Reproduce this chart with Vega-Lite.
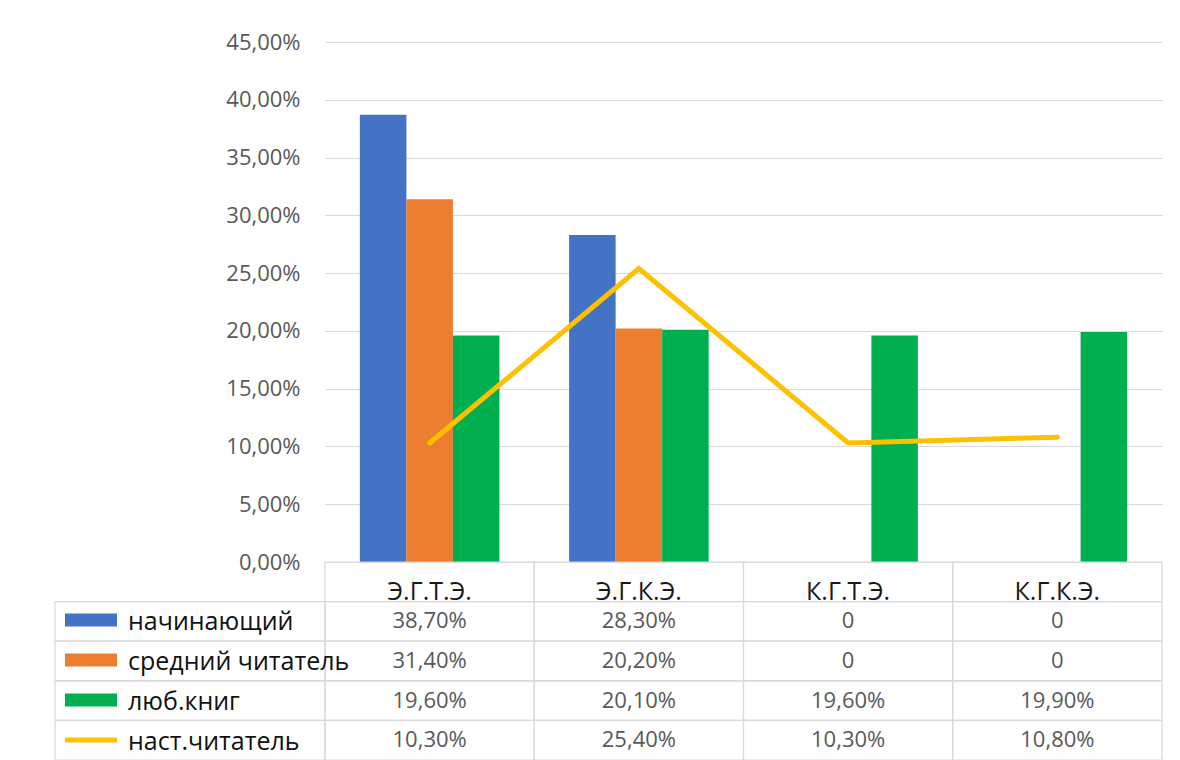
{
  "$schema": "https://vega.github.io/schema/vega-lite/v6.json",
  "padding": {"left": 54, "top": 31, "right": 0, "bottom": 0},
  "background": "white",
  "config": {
    "view": {"stroke": null},
    "font": "Open Sans",
    "locale": {"number": {"decimal": ",", "thousands": " ", "grouping": [3], "currency": ["", ""]}}
  },
  "datasets": {
    "table": [
      {"category": "Э.Г.Т.Э.", "series": "начинающий", "value": 0.387},
      {"category": "Э.Г.К.Э.", "series": "начинающий", "value": 0.283},
      {"category": "К.Г.Т.Э.", "series": "начинающий", "value": 0},
      {"category": "К.Г.К.Э.", "series": "начинающий", "value": 0},
      {"category": "Э.Г.Т.Э.", "series": "средний читатель", "value": 0.314},
      {"category": "Э.Г.К.Э.", "series": "средний читатель", "value": 0.202},
      {"category": "К.Г.Т.Э.", "series": "средний читатель", "value": 0},
      {"category": "К.Г.К.Э.", "series": "средний читатель", "value": 0},
      {"category": "Э.Г.Т.Э.", "series": "люб.книг", "value": 0.196},
      {"category": "Э.Г.К.Э.", "series": "люб.книг", "value": 0.201},
      {"category": "К.Г.Т.Э.", "series": "люб.книг", "value": 0.196},
      {"category": "К.Г.К.Э.", "series": "люб.книг", "value": 0.199},
      {"category": "Э.Г.Т.Э.", "series": "наст.читатель", "value": 0.103},
      {"category": "Э.Г.К.Э.", "series": "наст.читатель", "value": 0.254},
      {"category": "К.Г.Т.Э.", "series": "наст.читатель", "value": 0.103},
      {"category": "К.Г.К.Э.", "series": "наст.читатель", "value": 0.108}
    ]
  },
  "columns": 2,
  "spacing": 0,
  "bounds": "flush",
  "concat": [
    {
      "width": 270,
      "height": 520,
      "data": {"values": [{}]},
      "mark": {"type": "text", "text": ""},
      "encoding": {}
    },
    {
      "width": 837,
      "height": 520,
      "data": {"name": "table"},
      "encoding": {
        "x": {
          "field": "category",
          "type": "nominal",
          "scale": {"domain": ["Э.Г.Т.Э.", "Э.Г.К.Э.", "К.Г.Т.Э.", "К.Г.К.Э."], "paddingInner": 0.333, "paddingOuter": 0.1667},
          "axis": null
        }
      },
      "layer": [
        {
          "transform": [{"filter": "datum.series !== 'наст.читатель'"}],
          "mark": {"type": "bar"},
          "encoding": {
            "xOffset": {
              "field": "series",
              "type": "nominal",
              "scale": {"domain": ["начинающий", "средний читатель", "люб.книг"], "paddingInner": 0, "paddingOuter": 0}
            },
            "y": {
              "field": "value",
              "type": "quantitative",
              "scale": {"domain": [0, 0.45]},
              "axis": {
                "values": [0, 0.05, 0.1, 0.15, 0.2, 0.25, 0.3, 0.35, 0.4, 0.45],
                "format": ".2%",
                "title": null,
                "domain": false,
                "ticks": false,
                "grid": true,
                "gridColor": "#d9d9d9",
                "gridWidth": 1.2,
                "labelFontSize": 22,
                "labelColor": "#595959",
                "labelPadding": 25
              }
            },
            "color": {
              "field": "series",
              "type": "nominal",
              "scale": {
                "domain": ["начинающий", "средний читатель", "люб.книг", "наст.читатель"],
                "range": ["#4472C4", "#ED7D31", "#00B050", "#FFC000"]
              },
              "legend": {
                "orient": "none",
                "legendX": 23,
                "legendY": 565,
                "title": null,
                "labelFontSize": 25,
                "labelColor": "#111111",
                "labelFont": "Open Sans",
                "labelLimit": 400,
                "symbolType": "M-2,-0.5H2V0.5H-2Z",
                "symbolSize": 676,
                "symbolStrokeWidth": 0,
                "rowPadding": 12,
                "labelOffset": 24,
                "encode": {
                  "symbols": {
                    "update": {
                      "shape": {"signal": "datum.value === 'наст.читатель' ? 'M-2,-0.2H2V0.2H-2Z' : 'M-2,-0.5H2V0.5H-2Z'"},
                      "fill": {"signal": "scale('color', datum.value)"},
                      "strokeWidth": {"value": 0},
                      "opacity": {"value": 1}
                    }
                  },
                  "labels": {"update": {"dy": {"value": 2}}}
                }
              }
            }
          }
        },
        {
          "transform": [{"filter": "datum.series === 'наст.читатель'"}],
          "mark": {"type": "line", "strokeWidth": 5, "strokeCap": "round", "strokeJoin": "miter"},
          "encoding": {
            "y": {"field": "value", "type": "quantitative"},
            "color": {"field": "series", "type": "nominal"}
          }
        }
      ]
    },
    {
      "width": 270,
      "height": 198,
      "data": {"name": "table"},
      "transform": [{"filter": "datum.category === 'Э.Г.Т.Э.'"}],
      "mark": {"type": "rect", "filled": false, "stroke": "#d9d9d9", "strokeWidth": 1.2},
      "encoding": {
        "y": {
          "field": "series",
          "type": "nominal",
          "scale": {"domain": ["hdr", "начинающий", "средний читатель", "люб.книг", "наст.читатель"], "paddingInner": 0, "paddingOuter": 0},
          "axis": null
        }
      }
    },
    {
      "width": 837,
      "height": 198,
      "data": {"name": "table"},
      "encoding": {
        "x": {
          "field": "category",
          "type": "nominal",
          "scale": {"domain": ["Э.Г.Т.Э.", "Э.Г.К.Э.", "К.Г.Т.Э.", "К.Г.К.Э."], "paddingInner": 0, "paddingOuter": 0},
          "axis": null
        }
      },
      "layer": [
        {
          "mark": {"type": "rect", "filled": false, "stroke": "#d9d9d9", "strokeWidth": 1.2},
          "encoding": {
            "y": {
              "field": "series",
              "type": "nominal",
              "scale": {"domain": ["hdr", "начинающий", "средний читатель", "люб.книг", "наст.читатель"], "paddingInner": 0, "paddingOuter": 0},
              "axis": null
            }
          }
        },
        {
          "transform": [{"filter": "datum.series === 'начинающий'"}],
          "mark": {"type": "rect", "filled": false, "stroke": "#d9d9d9", "strokeWidth": 1.2},
          "encoding": {"y": {"datum": "hdr", "type": "nominal"}}
        },
        {
          "mark": {"type": "text", "fontSize": 22, "color": "#595959"},
          "encoding": {
            "y": {"field": "series", "type": "nominal"},
            "text": {"condition": {"test": "datum.value === 0", "value": "0"}, "field": "value", "type": "quantitative", "format": ".2%"}
          }
        },
        {
          "transform": [{"filter": "datum.series === 'начинающий'"}],
          "mark": {"type": "text", "fontSize": 25, "color": "#1a1a1a", "baseline": "alphabetic", "dy": 18},
          "encoding": {
            "y": {"datum": "hdr", "type": "nominal"},
            "text": {"field": "category", "type": "nominal"}
          }
        }
      ]
    }
  ]
}
